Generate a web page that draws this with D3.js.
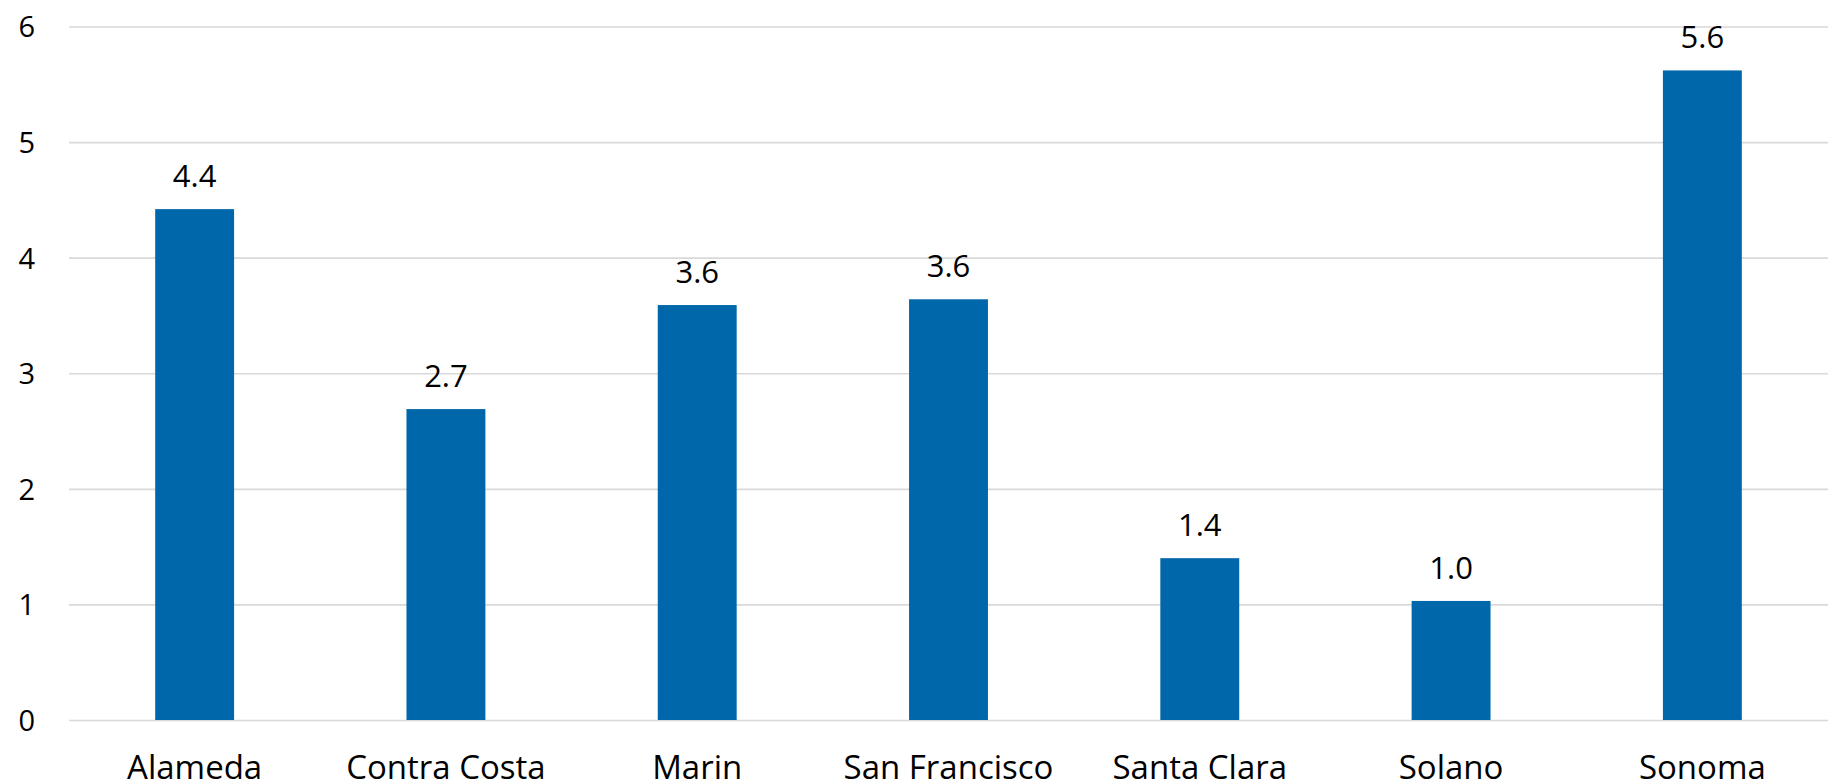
<!DOCTYPE html>
<html>
<head>
<meta charset="utf-8">
<script src="https://cdn.jsdelivr.net/npm/d3@7"></script>
<style>
  html, body { margin: 0; padding: 0; background: #ffffff; }
  svg { display: block; }
  text { font-family: "Open Sans", "Noto Sans", sans-serif; fill: #000000; }
</style>
</head>
<body>
<svg id="chart" width="1830" height="783"></svg>
<script>
// Counties and their values
const counties = ["Alameda", "Contra Costa", "Marin", "San Francisco", "Santa Clara", "Solano", "Sonoma"];
const values = [4.42, 2.69, 3.59, 3.64, 1.40, 1.03, 5.62];
const yTicks = [0, 1, 2, 3, 4, 5, 6];

const svg = d3.select("#chart");

const plotLeft = 69, plotRight = 1828;
const plotTop = 26.5, plotBottom = 720;

const x = d3.scaleBand()
  .domain(counties)
  .range([plotLeft, plotRight])
  .paddingInner(0.686)
  .paddingOuter(0.343);

const y = d3.scaleLinear()
  .domain([0, 6])
  .range([plotBottom, plotTop]);

// Horizontal gridlines
const grid = svg.append("g")
  .attr("transform", `translate(${plotLeft},0)`)
  .call(d3.axisLeft(y).tickValues(yTicks).tickSize(-(plotRight - plotLeft)).tickFormat(""));
grid.select(".domain").remove();
grid.selectAll(".tick line")
  .attr("stroke", "#d9d9d9")
  .attr("stroke-width", 1.6);

// Y-axis labels
const yAxis = svg.append("g")
  .attr("transform", `translate(35,0)`)
  .call(d3.axisLeft(y).tickValues(yTicks).tickSize(0).tickPadding(0).tickFormat(d3.format("d")));
yAxis.select(".domain").remove();
yAxis.selectAll(".tick text")
  .attr("x", 0)
  .attr("dy", "0.36em")
  .attr("text-anchor", "end")
  .style("font-size", "29px")
  .style("font-family", "'Open Sans', 'Noto Sans', sans-serif")
  .attr("fill", "#000");

// Bars
svg.append("g")
  .selectAll("rect")
  .data(counties)
  .join("rect")
  .attr("x", d => x(d))
  .attr("width", x.bandwidth())
  .attr("y", (d, i) => y(values[i]))
  .attr("height", (d, i) => y(0) - y(values[i]))
  .attr("fill", "#0067aa");

// Value labels above bars
const fmt = d3.format(".1f");
svg.append("g")
  .selectAll("text")
  .data(counties)
  .join("text")
  .attr("x", d => x(d) + x.bandwidth() / 2)
  .attr("y", (d, i) => y(values[i]) - 22)
  .attr("text-anchor", "middle")
  .style("font-size", "31px")
  .text((d, i) => fmt(values[i]));

// Category labels along the bottom
const xAxis = svg.append("g")
  .attr("transform", `translate(0,${plotBottom})`)
  .call(d3.axisBottom(x).tickSize(0).tickPadding(0));
xAxis.select(".domain").remove();
xAxis.selectAll(".tick text")
  .attr("y", 59)
  .attr("dy", 0)
  .style("font-size", "33px")
  .style("font-family", "'Open Sans', 'Noto Sans', sans-serif")
  .attr("fill", "#000");
</script>
</body>
</html>
